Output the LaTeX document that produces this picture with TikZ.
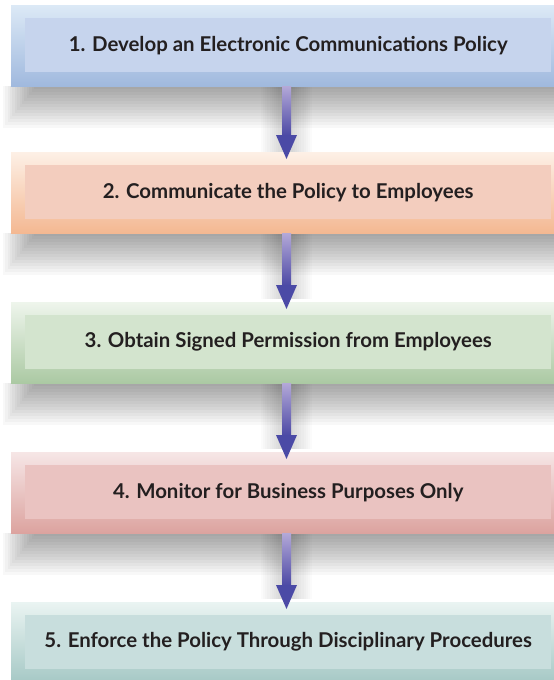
\documentclass[tikz,border=0pt]{standalone}
\usepackage{fontspec}
\setmainfont{Lato}
\usetikzlibrary{calc}
\definecolor{txt}{HTML}{231F20}
\definecolor{aTop}{HTML}{DCE9F6}\definecolor{aBot}{HTML}{A0B9DE}\definecolor{aIn}{HTML}{C6D4ED}
\definecolor{bTop}{HTML}{FDF0E6}\definecolor{bBot}{HTML}{F4B892}\definecolor{bIn}{HTML}{F3CDBE}
\definecolor{cTop}{HTML}{EEF5EC}\definecolor{cBot}{HTML}{ABC9A3}\definecolor{cIn}{HTML}{D3E4CE}
\definecolor{dTop}{HTML}{F6E6E6}\definecolor{dBot}{HTML}{DCA39F}\definecolor{dIn}{HTML}{EAC3C1}
\definecolor{eTop}{HTML}{EAF4F2}\definecolor{eBot}{HTML}{A5C8C5}\definecolor{eIn}{HTML}{C8DEDD}
\definecolor{arrTop}{HTML}{B3A8D8}\definecolor{arrBot}{HTML}{4D4AA5}\definecolor{arrHead}{HTML}{4B4AA6}
\begin{document}
\begin{tikzpicture}[x=1pt,y=1pt,
  outerbox/.style={minimum width=549pt, minimum height=81pt, inner sep=0pt, anchor=north west},
  innerbox/.style={minimum width=526pt, minimum height=54pt, inner sep=0pt, anchor=north west,
    font=\bfseries\fontsize{20.4}{23}\selectfont, text=txt},
  shaftstyle/.style={top color=arrTop, bottom color=arrBot},
  headstyle/.style={fill=arrHead},
  shadowlayer/.style={fill=black, opacity=0.026},
  glowlayer/.style={fill=black, opacity=0.014},
]
\useasboundingbox (0,0) rectangle (554,-680);
\fill[white] (0,0) rectangle (554,-680);
\coordinate (ax) at (286.5,0);

% soft shadows below boxes 1-4 and around the arrows
\foreach \t in {5,152,302,452}{
  \foreach \k in {0,...,13}{
    \fill[shadowlayer] (34-2.4*\k,-\t-81) rectangle (560,-\t-81-3*\k-3);
  }
  \foreach \k in {0,...,9}{
    \fill[glowlayer] (286.5-6-2.2*\k,-\t-81) rectangle (286.5+6+2.2*\k,-\t-147);
  }
}

\node[outerbox, top color=aTop, bottom color=aBot] (o1) at (11,-5) {};
\node[innerbox, fill=aIn] (n1) at (25,-18) {1. Develop an Electronic Communications Policy};

\node[outerbox, top color=bTop, bottom color=bBot] (o2) at (11,-152) {};
\node[innerbox, fill=bIn] (n2) at (25,-165) {2. Communicate the Policy to Employees};

\node[outerbox, top color=cTop, bottom color=cBot] (o3) at (11,-302) {};
\node[innerbox, fill=cIn] (n3) at (25,-315) {3. Obtain Signed Permission from Employees};

\node[outerbox, top color=dTop, bottom color=dBot] (o4) at (11,-452) {};
\node[innerbox, fill=dIn] (n4) at (25,-465) {4. Monitor for Business Purposes Only};

\node[outerbox, top color=eTop, bottom color=eBot] (o5) at (11,-602) {};
\node[innerbox, fill=eIn] (n5) at (25,-615) {5. Enforce the Policy Through Disciplinary Procedures};

\foreach \a/\b in {o1/o2,o2/o3,o3/o4,o4/o5}{
  \path (ax |- \a.south) coordinate (s) (ax |- \b.north) coordinate (e);
  \shade[shaftstyle] ($(s)+(-4.5,0)$) rectangle ($(e)+(4.5,17)$);
  \fill[headstyle] ($(e)+(-10.5,17)$) -- ($(e)+(10.5,17)$) -- ($(e)+(0,-7)$) -- cycle;
}
\end{tikzpicture}
\end{document}
